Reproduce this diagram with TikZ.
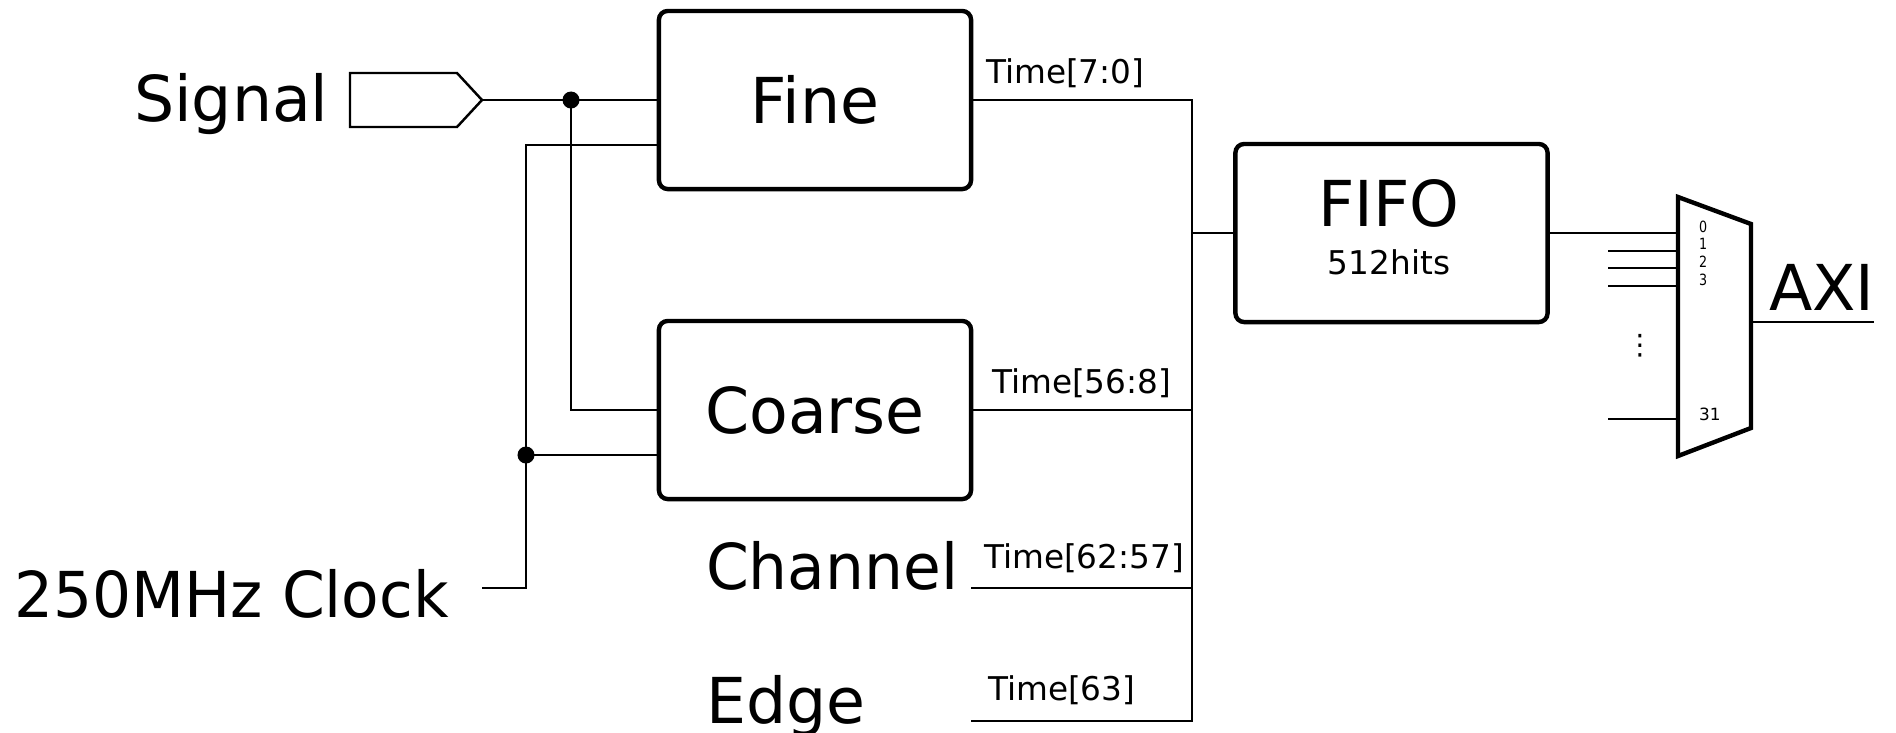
\documentclass[tikz,border=0pt]{standalone}
\usepackage{fontspec}
\setmainfont{DejaVu Sans}
\newfontfamily\narrowsans[FakeStretch=0.97]{DejaVu Sans}
\newfontfamily\pinsans[FakeStretch=0.82]{DejaVu Sans}
\usepackage{tikz}

\begin{document}
\begin{tikzpicture}[x=0.01cm, y=-0.01cm, line width=0.6pt,
    block/.style={rectangle, draw=black, rounded corners=2.5pt, line width=1.25pt,
        minimum width=3.12cm, minimum height=1.78cm, inner sep=0pt,
        font=\fontsize{18}{21}\selectfont},
    big/.style={inner sep=0pt, font=\fontsize{18}{21}\selectfont},
    bignarrow/.style={inner sep=0pt, font=\fontsize{18}{21}\narrowsans},
    small/.style={inner sep=0pt, font=\fontsize{9.3}{11}\selectfont},
    buslabel/.style={small, anchor=base west},
    muxlabel/.style={inner sep=0pt, anchor=west, font=\fontsize{4.4}{5}\pinsans},
    junction/.style={circle, fill=black, inner sep=0pt, minimum size=0.17cm}]
    \useasboundingbox (0,0) rectangle (1896,733);

    \node[block] (fine) at (815,100) {Fine};
    \node[block] (coarse) at (815,410) {Coarse};
    \node[block] (fifo) at (1391.5,233) {};
    \node[big, anchor=base] (fifotext) at (1389,226) {FIFO};
    \node[small, anchor=base] (hits) at (1389,274) {512hits};

    \node[big, anchor=base west] (signal) at (133,121) {Signal};
    \node[bignarrow, anchor=base east] (clock) at (450,617) {250MHz Clock};
    \node[bignarrow, anchor=base west] (channel) at (705,589) {Channel};
    \node[big, anchor=base west] (edge) at (705,723) {Edge};
    \node[big, anchor=base west] (axi) at (1768,310) {AXI};

    \draw[line width=0.7pt] (350,73) -- (457,73) -- (482,100) -- (457,127) -- (350,127) -- cycle;
    \coordinate (sigtip) at (482,100);
    \coordinate (clkin) at (482,588);
    \coordinate (fineclk) at (659,145);
    \coordinate (coarseclk) at (659,455);
    \node[junction] (sj) at (571,100) {};
    \node[junction] (cj) at (526,455) {};

    \draw (sigtip) -- (fine.west);
    \draw (sj.center) |- (coarse.west);
    \draw (clkin) -| (cj.center) |- (fineclk);
    \draw (cj.center) -- (coarseclk);

    \coordinate (busbot) at (1192,721);
    \coordinate (chanout) at (971,588);
    \coordinate (edgeout) at (971,721);
    \draw (fine.east) -| (busbot) -- (edgeout);
    \draw (coarse.east) -- (coarse.east -| busbot);
    \draw (chanout) -- (chanout -| busbot);
    \draw (busbot |- fifo.west) -- (fifo.west);

    \node[buslabel] (t0) at (985,83) {Time[7:0]};
    \node[buslabel] (t8) at (991,393) {Time[56:8]};
    \node[buslabel] (t57) at (983,568) {Time[62:57]};
    \node[buslabel] (t63) at (987,700) {Time[63]};

    \coordinate (muxtl) at (1678,197);
    \coordinate (muxtr) at (1751,224);
    \coordinate (muxbr) at (1751,428);
    \coordinate (muxbl) at (1678,456);
    \draw[line width=1.25pt] (muxtl) -- (muxtr) -- (muxbr) -- (muxbl) -- cycle;
    \draw (fifo.east) -- (fifo.east -| muxtl);
    \foreach \i/\y in {1/251,2/268,3/286,31/419}
    {
        \coordinate (in\i) at (1608,\y);
        \draw (in\i) -- (in\i -| muxtl);
    }
    \node[inner sep=0pt, font=\fontsize{8}{9}\selectfont] (dots) at (1640,346) {⋮};
    \foreach \n/\y in {0/227,1/244,2/262,3/280}
        \node[muxlabel] (sel\n) at (1698,\y) {\n};
    \node[muxlabel, font=\fontsize{4.8}{5}\selectfont] (sel31) at (1698,414) {31};

    \coordinate (axiout) at (1874,322);
    \draw (muxtr |- axiout) -- (axiout);
\end{tikzpicture}
\end{document}
